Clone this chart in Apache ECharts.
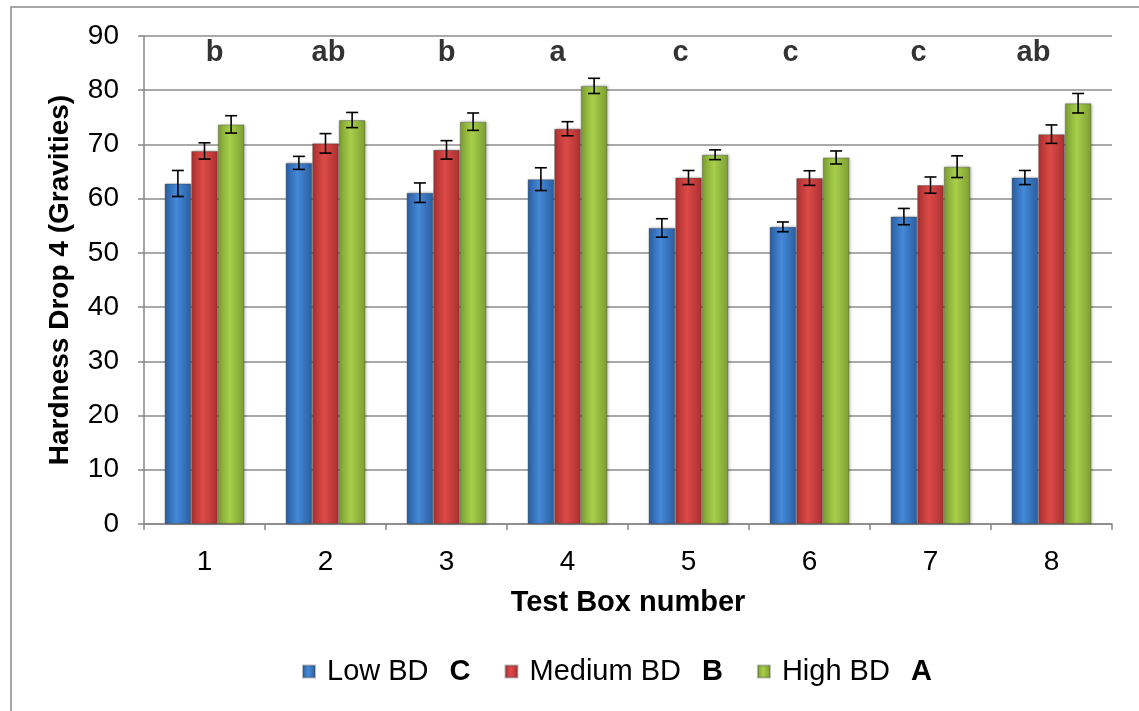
<!DOCTYPE html>
<html>
<head>
<meta charset="utf-8">
<script src="https://cdn.jsdelivr.net/npm/echarts@6/dist/echarts.min.js"></script>
<style>html,body{margin:0;padding:0;background:#fff;}#c{width:1139px;height:711px;}</style>
</head>
<body>
<div id="c"></div>
<script>
// ---- data ----
var categories = ['1', '2', '3', '4', '5', '6', '7', '8'];
var seriesNames = ['Low BD', 'Medium BD', 'High BD'];
var lowBD   = [62.8, 66.6, 61.1, 63.6, 54.6, 54.8, 56.7, 63.9];
var lowErr  = [2.4, 1.2, 1.8, 2.1, 1.7, 0.9, 1.5, 1.3];
var medBD   = [68.8, 70.2, 69.0, 72.9, 63.9, 63.8, 62.5, 71.9];
var medErr  = [1.5, 1.8, 1.7, 1.3, 1.3, 1.35, 1.5, 1.7];
var highBD  = [73.7, 74.5, 74.2, 80.8, 68.1, 67.6, 65.9, 77.6];
var highErr = [1.6, 1.4, 1.6, 1.4, 0.9, 1.2, 2.0, 1.8];
var boxLetters = ['b', 'ab', 'b', 'a', 'c', 'c', 'c', 'ab'];
var groupLetters = ['C', 'B', 'A'];
var yTicks = [0, 10, 20, 30, 40, 50, 60, 70, 80, 90];
var letterLevel = 86.9;

// ---- styling ----
var FONT = "'Liberation Sans', Arial, sans-serif";
var values = [lowBD, medBD, highBD];
var errs = [lowErr, medErr, highErr];
var palettes = [
  ['#2a5d9f', '#4489d8', '#2a5d9f'],
  ['#a93030', '#dc4a47', '#a93030'],
  ['#7b9d32', '#a8cf4a', '#7b9d32']
];
var letterNudge = [10, 3, 0, -10, -8, -19, -12, -18];
var CAT_GAP = 0.34;

function grad(p) {
  return new echarts.graphic.LinearGradient(0, 0, 1, 0, [
    {offset: 0, color: p[0]}, {offset: 0.45, color: p[1]}, {offset: 1, color: p[2]}
  ]);
}

var series = [];
for (var s = 0; s < 3; s++) {
  series.push({
    name: seriesNames[s],
    type: 'bar',
    data: values[s],
    barGap: '0%',
    barCategoryGap: (CAT_GAP * 100) + '%',
    itemStyle: {color: grad(palettes[s]), borderColor: 'rgba(60,60,60,0.35)', borderWidth: 1,
      shadowColor: 'rgba(0,0,0,0.25)', shadowBlur: 3, shadowOffsetX: 1},
    z: 2
  });
}
for (var s2 = 0; s2 < 3; s2++) {
  (function (si) {
    series.push({
      type: 'custom',
      name: seriesNames[si] + ' err',
      z: 5,
      silent: true,
      data: values[si].map(function (v, i) { return [i, v - errs[si][i], v + errs[si][i]]; }),
      encode: {x: 0, y: [1, 2]},
      renderItem: function (params, api) {
        var c = api.value(0);
        var lo = api.coord([c, api.value(1)]);
        var hi = api.coord([c, api.value(2)]);
        var band = api.size([1, 0])[0];
        var bw = band * (1 - CAT_GAP) / 3;
        var x = lo[0] + (si - 1) * bw;
        var cap = 6;
        var st = {stroke: '#000', lineWidth: 1.6};
        return {type: 'group', children: [
          {type: 'line', shape: {x1: x, y1: hi[1], x2: x, y2: lo[1]}, style: st},
          {type: 'line', shape: {x1: x - cap, y1: hi[1], x2: x + cap, y2: hi[1]}, style: st},
          {type: 'line', shape: {x1: x - cap, y1: lo[1], x2: x + cap, y2: lo[1]}, style: st}
        ]};
      }
    });
  })(s2);
}
series.push({
  type: 'scatter',
  name: 'letters',
  silent: true,
  symbolSize: 1,
  itemStyle: {color: 'rgba(0,0,0,0)'},
  data: boxLetters.map(function (t, i) {
    return {value: [i, letterLevel], label: {offset: [letterNudge[i], 0]}};
  }),
  label: {show: true, position: 'inside', formatter: function (p) { return boxLetters[p.dataIndex]; },
    color: '#000', fontFamily: FONT, fontWeight: 'bold', fontSize: 29},
  z: 6
});

var chart = echarts.init(document.getElementById('c'), null, {renderer: 'canvas'});
chart.setOption({
  backgroundColor: '#fff',
  animation: false,
  grid: {left: 144, right: 27, top: 36, bottom: 187},
  graphic: [
    {type: 'rect', shape: {x: 11, y: 7, width: 1200, height: 800}, style: {fill: 'none', stroke: '#8a8a8a', lineWidth: 1.5}, z: -10}
  ],
  legend: {
    left: 297, top: 652,
    itemWidth: 12, itemHeight: 12, itemGap: 34,
    icon: 'rect',
    data: seriesNames,
    formatter: function (n) {
      return '{n|' + n + '}{c|' + groupLetters[seriesNames.indexOf(n)] + '}';
    },
    textStyle: {
      fontFamily: FONT, fontSize: 29, color: '#000',
      rich: {
        n: {fontFamily: FONT, fontSize: 29, color: '#000', padding: [0, 0, 0, 7]},
        c: {fontFamily: FONT, fontSize: 29, fontWeight: 'bold', color: '#000', padding: [0, 0, 0, 21]}
      }
    }
  },
  xAxis: {
    type: 'category',
    data: categories,
    name: 'Test Box number',
    nameLocation: 'middle',
    nameGap: 64,
    nameTextStyle: {fontFamily: FONT, fontWeight: 'bold', fontSize: 29, color: '#000'},
    axisLine: {lineStyle: {color: '#868686', width: 1.5}},
    axisTick: {show: true, length: 6, alignWithLabel: false, lineStyle: {color: '#868686', width: 1.5}},
    axisLabel: {fontFamily: FONT, fontSize: 28, color: '#000', margin: 24},
    splitLine: {show: false}
  },
  yAxis: {
    type: 'value',
    min: yTicks[0], max: yTicks[yTicks.length - 1], interval: yTicks[1] - yTicks[0],
    name: 'Hardness Drop 4 (Gravities)',
    nameLocation: 'middle',
    nameGap: 70,
    nameTextStyle: {fontFamily: FONT, fontWeight: 'bold', fontSize: 28, color: '#000'},
    axisLine: {show: true, lineStyle: {color: '#868686', width: 1.5}},
    axisTick: {show: true, length: 6, lineStyle: {color: '#868686', width: 1.5}},
    axisLabel: {fontFamily: FONT, fontSize: 28, color: '#000', margin: 25},
    splitLine: {lineStyle: {color: '#8c8c8c', width: 1.5}}
  },
  series: series
});
</script>
</body>
</html>
